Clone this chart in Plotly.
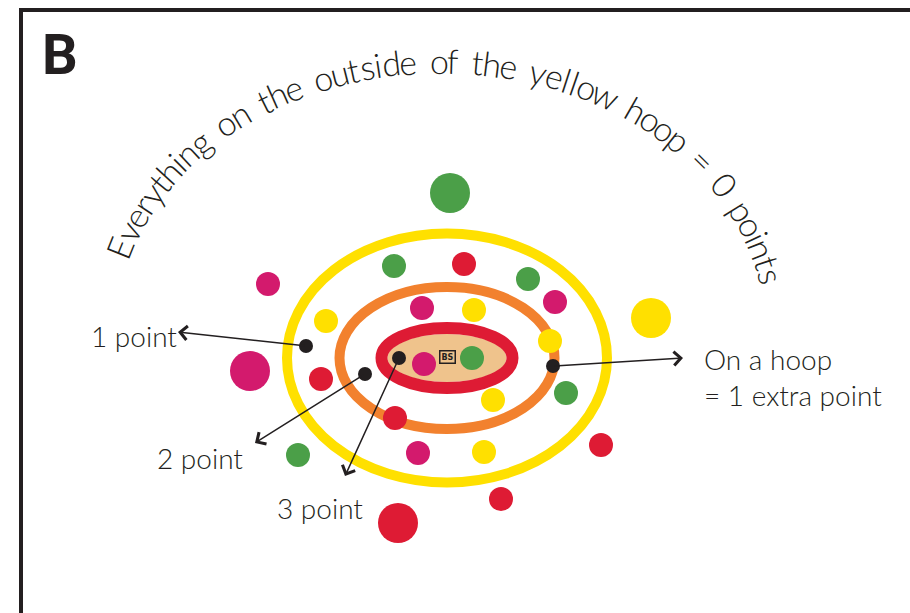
import numpy as np
import plotly.graph_objects as go

# ---------------- data ----------------
W, H = 910, 613
INK = "#231F20"
COL = {"Y": "#FFE000", "O": "#F2812E", "R": "#DE1B34", "M": "#D31A6D", "G": "#4B9F48"}

# hoops (centre line of ring), common centre
hoop_cx, hoop_cy = 447, 358
hoop_names = ["yellow", "orange", "red"]
hoop_rx = [160, 107.5, 65.5]
hoop_ry = [124.5, 71, 30]
hoop_color = [COL["Y"], COL["O"], COL["R"]]
hoop_width = [10, 10, 12]
wood_rx, wood_ry = 59.5, 24

# coloured counters
dot_x = [394, 464, 528, 555, 326, 321, 566, 418, 484, 395, 550, 422, 474, 493, 424, 472,
         298, 601, 268, 501, 450, 250, 651, 398]
dot_y = [266, 264, 279, 302, 321, 379, 393, 453, 452, 418, 341, 308, 310, 400, 364, 358,
         455, 445, 284, 499, 193, 371, 318, 523]
dot_c = ["G", "R", "G", "M", "Y", "R", "G", "M", "Y", "R", "Y", "M", "Y", "Y", "M", "G",
         "G", "R", "M", "R", "G", "M", "Y", "R"]
dot_d = [24] * 20 + [40] * 4

# black marker dots and their arrows to labels
mark_x = [306, 365, 399, 553]
mark_y = [346, 374, 358, 366]
head_x = [178, 255, 345, 683]
head_y = [332, 443, 476, 358]

label_text = ["1 point", "2 point", "3 point", "On a hoop<br>= 1 extra point"]
label_x = [134, 200, 320, 702]
label_y = [336, 458, 508, 377]
label_anchor = ["center", "center", "center", "left"]

arc_text = "Everything on the outside of the yellow hoop = 0 points"
arc_cx, arc_cy, arc_a, arc_b = 441, 332, 338, 272
arc_t0, arc_t1 = 162, 12

FONT = "Lato, Liberation Sans, sans-serif"

fig = go.Figure()

# border
shapes = [
    dict(type="line", x0=19, x1=W, y0=10, y1=10, line=dict(color=INK, width=4), layer="below"),
    dict(type="line", x0=21, x1=21, y0=8, y1=H, line=dict(color=INK, width=4), layer="below"),
]
# wood
shapes.append(dict(type="circle", x0=hoop_cx - wood_rx, x1=hoop_cx + wood_rx,
                   y0=hoop_cy - wood_ry, y1=hoop_cy + wood_ry,
                   fillcolor="#EFC38C", line=dict(width=0), layer="below"))
for rx, ry, c, w in zip(hoop_rx, hoop_ry, hoop_color, hoop_width):
    shapes.append(dict(type="circle", x0=hoop_cx - rx, x1=hoop_cx + rx,
                       y0=hoop_cy - ry, y1=hoop_cy + ry,
                       line=dict(color=c, width=w), layer="below"))

fig.add_trace(go.Scatter(x=dot_x, y=dot_y, mode="markers",
                         marker=dict(size=dot_d, color=[COL[c] for c in dot_c],
                                     opacity=1, line=dict(width=0)),
                         hoverinfo="skip"))
fig.add_trace(go.Scatter(x=mark_x, y=mark_y, mode="markers",
                         marker=dict(size=14, color=INK, opacity=1, line=dict(width=0)),
                         hoverinfo="skip"))

ann = []
# "B" panel letter
ann.append(dict(x=60, y=55, text="<b>B</b>", showarrow=False, xanchor="center", yanchor="middle",
                font=dict(family="Roboto, Liberation Sans, sans-serif", size=56, color=INK)))
# BS logo
ann.append(dict(x=hoop_cx, y=hoop_cy - 1, text="<b>BS</b>", showarrow=False,
                font=dict(family="DejaVu Sans", size=8, color=INK),
                bordercolor=INK, borderwidth=1.5, borderpad=1))
# arrows
for mx, my, hx, hy in zip(mark_x, mark_y, head_x, head_y):
    ann.append(dict(x=hx, y=hy, ax=mx, ay=my, axref="x", ayref="y", text="",
                    showarrow=True, arrowhead=4, arrowsize=1.8, arrowwidth=1.5,
                    arrowcolor=INK, standoff=0, startstandoff=0))
# labels
for t, x, y, a in zip(label_text, label_x, label_y, label_anchor):
    ann.append(dict(x=x, y=y, text=t, showarrow=False, xanchor=a, yanchor="middle", align="left",
                    font=dict(family=FONT, size=28, color=INK, weight=300)))

# curved text along an elliptical arc
widths = {" ": 0.42, "E": 0.62, "v": 0.5, "e": 0.52, "r": 0.36, "y": 0.5, "t": 0.34, "h": 0.54,
          "i": 0.26, "n": 0.54, "g": 0.54, "o": 0.54, "u": 0.54, "s": 0.48, "d": 0.54, "f": 0.32,
          "l": 0.26, "w": 0.7, "p": 0.54, "=": 0.58, "0": 0.56}
th = np.radians(np.linspace(arc_t0, arc_t1, 4000))
px = arc_cx + arc_a * np.cos(th)
py = arc_cy - arc_b * np.sin(th)
seg = np.hypot(np.diff(px), np.diff(py))
cum = np.concatenate([[0], np.cumsum(seg)])
wlist = [widths.get(ch, 0.5) for ch in arc_text]
centers = np.cumsum(wlist) - np.array(wlist) / 2
centers = (centers - centers[0]) / (centers[-1] - centers[0]) * cum[-1]
for ch, s in zip(arc_text, centers):
    if ch == " ":
        continue
    t = np.interp(s, cum, th)
    x = arc_cx + arc_a * np.cos(t)
    y = arc_cy - arc_b * np.sin(t)
    ang = np.degrees(np.arctan2(arc_b * np.cos(t), arc_a * np.sin(t)))
    ann.append(dict(x=x, y=y, text=ch, showarrow=False, textangle=ang,
                    xanchor="center", yanchor="middle",
                    font=dict(family=FONT, size=34, color=INK, weight=300)))

fig.update_layout(
    width=W, height=H, margin=dict(l=0, r=0, t=0, b=0),
    paper_bgcolor="white", plot_bgcolor="white", showlegend=False,
    xaxis=dict(range=[0, W], visible=False, fixedrange=True),
    yaxis=dict(range=[H, 0], visible=False, fixedrange=True),
    shapes=shapes, annotations=ann,
)
fig.write_html("out.html", config={"displayModeBar": False},
               post_script="document.body.style.margin='0';document.body.style.overflow='hidden';")
